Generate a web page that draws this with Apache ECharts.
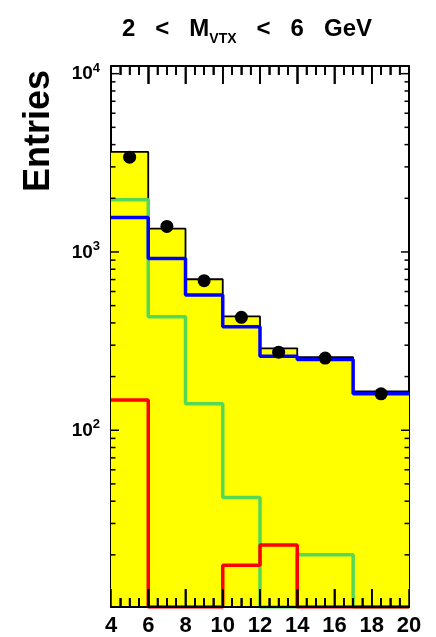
<!DOCTYPE html>
<html lang="en">
<head>
<meta charset="UTF-8">
<title>2 &lt; M_VTX &lt; 6 GeV</title>
<script src="https://cdn.jsdelivr.net/npm/echarts@6/dist/echarts.min.js"></script>
</head>
<body style="margin:0; background:#fff;">
<div id="main" style="width:436px; height:637px;"></div>
<script type="text/javascript">
// bin edges (GeV) and contents per bin
var binEdges = [4, 6, 8, 10, 12, 14, 17, 20];
var dataPoints = [3400, 1390, 690, 430, 274, 254, 160];
var totalMC = [3640, 1350, 703, 435, 288, 257, 165];
var blueMC = [1560, 920, 573, 381, 260, 249, 160];
var greenMC = [1960, 433, 141, 42, 0, 20, 0];
var redMC = [148, 0, 0, 17.5, 22.7, 0, 0];

// tick marks of the frame
var xMajorTicks = [6, 8, 10, 12, 14, 16, 18];
var xMinorTicks = [4.5, 5, 5.5, 6.5, 7, 7.5, 8.5, 9, 9.5, 10.5, 11, 11.5, 12.5, 13, 13.5,
	14.5, 15, 15.5, 16.5, 17, 17.5, 18.5, 19, 19.5];
var yMajorTicks = [100, 1000, 10000];
var yMinorTicks = [20, 30, 40, 50, 60, 70, 80, 90,
	200, 300, 400, 500, 600, 700, 800, 900,
	2000, 3000, 4000, 5000, 6000, 7000, 8000, 9000];

var xMin = 4, xMax = 20;
var yMin = 10.2, yMax = 11040;
var FONT = 'Liberation Sans';

// histogram -> step points (empty bins sit on the bottom of the frame)
function steps(vals) {
	var pts = [];
	for (var i = 0; i < vals.length; i++) {
		pts.push([binEdges[i], Math.max(vals[i], yMin)]);
	}
	pts.push([binEdges[binEdges.length - 1], Math.max(vals[vals.length - 1], yMin)]);
	return pts;
}
var centers = dataPoints.map(function(v, i) {
	return [(binEdges[i] + binEdges[i + 1]) / 2, v];
});

function histLine(name, vals, color, width) {
	return {
		name: name,
		type: 'line',
		step: 'end',
		symbol: 'none',
		lineStyle: { color: color, width: width },
		data: steps(vals)
	};
}

var xTickVals = xMajorTicks.concat(xMinorTicks);
var xTickLens = xMajorTicks.map(function() { return 18; }).concat(xMinorTicks.map(function() { return 9; }));
var yTickVals = yMajorTicks.concat(yMinorTicks);
var yTickLens = yMajorTicks.map(function() { return 8; }).concat(yMinorTicks.map(function() { return 4.5; }));

function tickLine(x1, y1, x2, y2) {
	return { type: 'line', shape: { x1: x1, y1: y1, x2: x2, y2: y2 },
		style: { stroke: '#000', lineWidth: 1.5 } };
}
function renderXTick(params, api) {
	var x = xTickVals[params.dataIndex];
	var len = xTickLens[params.dataIndex];
	var b = api.coord([x, yMin]);
	var t = api.coord([x, yMax]);
	return { type: 'group', children: [
		tickLine(b[0], b[1], b[0], b[1] - len),
		tickLine(t[0], t[1], t[0], t[1] + len)
	] };
}
function renderYTick(params, api) {
	var y = yTickVals[params.dataIndex];
	var len = yTickLens[params.dataIndex];
	var l = api.coord([xMin, y]);
	var r = api.coord([xMax, y]);
	return { type: 'group', children: [
		tickLine(l[0], l[1], l[0] + len, l[1]),
		tickLine(r[0], r[1], r[0] - len, r[1])
	] };
}

var entriesText = {
	id: 'entries',
	type: 'text',
	x: 39,
	y: 70,
	rotation: Math.PI / 2,
	style: {
		text: 'Entries',
		fontFamily: FONT,
		fontWeight: 'bold',
		fontSize: 36,
		fill: '#000',
		align: 'right',
		verticalAlign: 'middle'
	}
};

function xAxisOpt(pos) {
	return {
		type: 'value',
		position: pos,
		min: xMin,
		max: xMax,
		interval: 2,
		z: 10,
		splitLine: { show: false },
		axisLine: { show: true, onZero: false, lineStyle: { color: '#000', width: 2 } },
		axisTick: { show: true, inside: true, length: 18, lineStyle: { color: '#000', width: 1.5 } },
		minorTick: { show: true, splitNumber: 4, length: 9, lineStyle: { color: '#000', width: 1.5 } },
		axisLabel: pos === 'bottom'
			? { show: true, margin: 8, fontFamily: FONT, fontWeight: 'bold', fontSize: 22, color: '#000' }
			: { show: false }
	};
}

var myChart = echarts.init(document.getElementById('main'));
myChart.setOption({
	animation: false,
	backgroundColor: '#fff',
	title: {
		text: '{m|2   <   M}{s|VTX}{m|   <   6   GeV}',
		left: 117,
		top: 12,
		textStyle: {
			fontFamily: FONT,
			fontWeight: 'bold',
			fontSize: 24,
			color: '#000',
			rich: {
				m: { fontFamily: FONT, fontWeight: 'bold', fontSize: 24, color: '#000', lineHeight: 26, verticalAlign: 'top' },
				s: { fontFamily: FONT, fontWeight: 'bold', fontSize: 14, color: '#000', lineHeight: 14, verticalAlign: 'top', padding: [15, 0, 0, 0] }
			}
		}
	},
	graphic: { elements: [entriesText] },
	grid: { left: 111, right: 27, top: 66, bottom: 28 },
	xAxis: [xAxisOpt('bottom'), xAxisOpt('top')],
	yAxis: [{
		type: 'log',
		position: 'left',
		min: yMin,
		max: yMax,
		splitLine: { show: false },
		axisLine: { show: true, onZero: false, lineStyle: { color: '#000', width: 2 } },
		axisTick: { show: false },
		axisLabel: {
			show: true,
			margin: 11,
			formatter: function(v) {
				var e = Math.log10(v);
				if (Math.abs(e - Math.round(e)) > 1e-6 || e < 1.5) return '';
				return '{b|10}{s|' + Math.round(e) + '}';
			},
			rich: {
				b: { fontFamily: FONT, fontWeight: 'bold', fontSize: 19, color: '#000', lineHeight: 20, verticalAlign: 'bottom' },
				s: { fontFamily: FONT, fontWeight: 'bold', fontSize: 13, color: '#000', lineHeight: 13, verticalAlign: 'bottom', padding: [0, 0, 9, 0] }
			}
		}
	}, {
		type: 'log',
		position: 'right',
		min: yMin,
		max: yMax,
		splitLine: { show: false },
		axisLine: { show: true, onZero: false, lineStyle: { color: '#000', width: 2 } },
		axisTick: { show: false },
		axisLabel: { show: false }
	}],
	series: [
		{
			name: 'total',
			type: 'line',
			step: 'end',
			symbol: 'none',
			lineStyle: { color: '#000', width: 1.8 },
			areaStyle: { color: '#ffff00', opacity: 1, origin: 'start' },
			data: steps(totalMC)
		},
		histLine('green', greenMC, '#55d955', 3.5),
		histLine('blue', blueMC, '#0000ff', 3.5),
		histLine('red', redMC, '#ff0000', 3.5),
		{
			name: 'data',
			type: 'scatter',
			symbol: 'circle',
			symbolSize: 13,
			itemStyle: { color: '#000', opacity: 1 },
			z: 5,
			data: centers
		},
		{
			name: 'xticks',
			type: 'custom',
			renderItem: renderXTick,
			silent: true,
			z: 6,
			data: xTickVals.map(function(x) { return [x, yMin]; })
		},
		{
			name: 'yticks',
			type: 'custom',
			renderItem: renderYTick,
			silent: true,
			z: 6,
			data: yTickVals.map(function(y) { return [xMin, y]; })
		}
	]
});

// also lay the x ticks as graphic lines, placed through the chart's own axes
var tickEls = [entriesText];
xTickVals.forEach(function(x, i) {
	var b = myChart.convertToPixel({ xAxisIndex: 0, yAxisIndex: 0 }, [x, yMin]);
	var t = myChart.convertToPixel({ xAxisIndex: 0, yAxisIndex: 0 }, [x, yMax]);
	if (!b || !t) return;
	var len = xTickLens[i];
	tickEls.push({ type: 'line', z: 100, silent: true,
		shape: { x1: b[0], y1: b[1], x2: b[0], y2: b[1] - len },
		style: { stroke: '#000', lineWidth: 1.5 } });
	tickEls.push({ type: 'line', z: 100, silent: true,
		shape: { x1: t[0], y1: t[1], x2: t[0], y2: t[1] + len },
		style: { stroke: '#000', lineWidth: 1.5 } });
});
myChart.setOption({ graphic: { elements: tickEls } });
</script>
</body>
</html>
